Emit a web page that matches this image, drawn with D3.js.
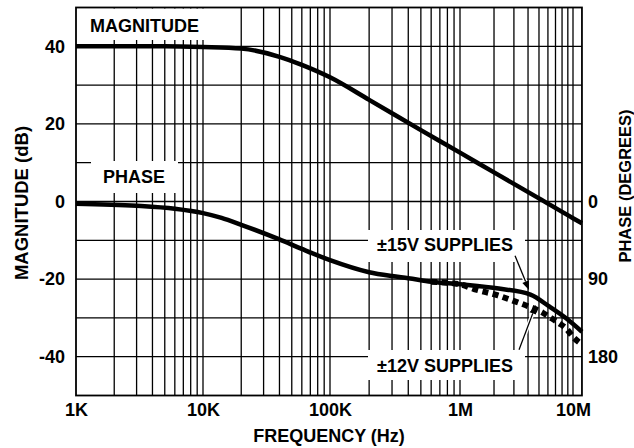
<!DOCTYPE html>
<html>
<head>
<meta charset="utf-8">
<script src="https://cdn.jsdelivr.net/npm/d3@7"></script>
<style>
  body { margin: 0; background: #fff; }
  text { font-family: "Liberation Sans", Arial, Helvetica, sans-serif; font-weight: bold; fill: #000; }
</style>
</head>
<body>
<div id="chart"></div>
<script>
// magnitude (dB) vs frequency (Hz)
const magFreq = [1e3, 2e3, 5e3, 1e4, 2e4, 4e4, 6e4, 1e5, 2e5, 5e5, 1e6, 2e6, 5e6, 1e7, 1.2e7];
const magDb   = [40, 40, 40, 39.8, 39.4, 37.3, 35.2, 32, 26.2, 18.4, 12.6, 7.5, 0.8, -4.3, -5.6];

// phase lag (degrees), +-15V supplies
const phase15Freq = [1e3, 3e3, 6e3, 1e4, 1.4e4, 2e4, 4e4, 6e4, 1e5, 2e5, 3e5, 4e5, 6e5, 1e6, 2.2e6, 4.2e6, 6.2e6, 8.8e6, 1.2e7];
const phase15Deg  = [2.5, 5, 8.5, 13.5, 19, 27, 44, 55, 68, 82, 86.5, 89, 93, 96, 101, 108, 122, 136, 151];

// phase lag (degrees), +-12V supplies (splits off above 1MHz)
const phase12Freq = [6e5, 1e6, 1.33e6, 2.17e6, 2.8e6, 4e6, 5.4e6, 6.2e6, 7.5e6, 8.8e6, 1e7, 1.18e7];
const phase12Deg  = [93, 96, 101.5, 109, 114, 121.5, 129, 134, 141, 148, 157, 165];

// tick labels
const magTicks = [40, 20, 0, -20, -40];
const phaseTicks = [0, 90, 180];
const freqTicks = [1e3, 1e4, 1e5, 1e6, 1e7];
const freqTickLabels = ["1K", "10K", "100K", "1M", "10M"];

const width = 634;
const height = 448;
const freqMax = 1.2e7; // frame runs a little past 10M

// decades on the original sheet are not quite even, so use a piecewise log scale
const x = d3.scaleLog()
    .domain([1e3, 1e4, 1e5, 1e6, 1e7])
    .range([76, 203, 330, 460, 573]);

const y = d3.scaleLinear()
    .domain([-50, 50])
    .range([395.5, 7.5]);

// 90 degrees of phase = 20 dB on the left scale
const yPhase = d3.scaleLinear()
    .domain([0, 180])
    .range([y(0), y(-40)]);

const svg = d3.select("#chart")
    .append("svg")
    .attr("width", width)
    .attr("height", height);

svg.append("rect")
    .attr("width", width)
    .attr("height", height)
    .attr("fill", "#fff");

const plotLeft = x(1e3), plotRight = x(freqMax), plotTop = y(50), plotBottom = y(-50);

// grid: every 1..9 of each decade, every 10 dB
const gridFreqs = [];
[1e3, 1e4, 1e5, 1e6].forEach(d => {
    for (let k = 2; k <= 9; k++) gridFreqs.push(d * k);
    if (d > 1e3) gridFreqs.push(d);
});
gridFreqs.push(1e7);

const grid = svg.append("g")
    .attr("stroke", "#000")
    .attr("stroke-width", 1.3);

grid.selectAll(".vgrid")
    .data(gridFreqs)
    .enter().append("line")
    .attr("x1", d => x(d)).attr("x2", d => x(d))
    .attr("y1", plotTop).attr("y2", plotBottom);

grid.selectAll(".hgrid")
    .data(d3.range(-40, 50, 10))
    .enter().append("line")
    .attr("x1", plotLeft).attr("x2", plotRight)
    .attr("y1", d => y(d)).attr("y2", d => y(d));

// white boxes behind the in-plot labels
const labelBoxes = [
    { x0: 77, x1: 208, y0: plotTop + 1, y1: 40 },
    { x0: 91, x1: 178, y0: 161, y1: 193 },
    { x0: 368, x1: 525, y0: 230, y1: 262 },
    { x0: 368, x1: 525, y0: 350, y1: 380 }
];
svg.selectAll(".labelbox")
    .data(labelBoxes)
    .enter().append("rect")
    .attr("x", d => d.x0)
    .attr("y", d => d.y0)
    .attr("width", d => d.x1 - d.x0)
    .attr("height", d => d.y1 - d.y0)
    .attr("fill", "#fff");

// frame
svg.append("rect")
    .attr("x", plotLeft)
    .attr("y", plotTop)
    .attr("width", plotRight - plotLeft)
    .attr("height", plotBottom - plotTop)
    .attr("fill", "none")
    .attr("stroke", "#000")
    .attr("stroke-width", 1.8);

// curves
const magLine = d3.line()
    .x((d, i) => x(magFreq[i]))
    .y(d => y(d))
    .curve(d3.curveMonotoneX);

const phaseLine = freqs => d3.line()
    .x((d, i) => x(freqs[i]))
    .y(d => yPhase(d))
    .curve(d3.curveMonotoneX);

svg.append("path")
    .attr("d", phaseLine(phase12Freq)(phase12Deg))
    .attr("fill", "none")
    .attr("stroke", "#000")
    .attr("stroke-width", 6)
    .attr("stroke-dasharray", "6,4.5");

svg.append("path")
    .attr("d", phaseLine(phase15Freq)(phase15Deg))
    .attr("fill", "none")
    .attr("stroke", "#000")
    .attr("stroke-width", 4.5);

svg.append("path")
    .attr("d", magLine(magDb))
    .attr("fill", "none")
    .attr("stroke", "#000")
    .attr("stroke-width", 4.5);

// axes (labels only)
const axisStyle = g => {
    g.select(".domain").remove();
    g.selectAll("text")
        .style("font-size", "18px")
        .style("font-family", "\"Liberation Sans\", Arial, sans-serif")
        .style("font-weight", "bold");
};

svg.append("g")
    .attr("transform", `translate(${plotLeft},0)`)
    .call(d3.axisLeft(y).tickValues(magTicks).tickSize(0).tickPadding(11)
        .tickFormat(d => `${d}`))
    .call(axisStyle);

svg.append("g")
    .attr("transform", `translate(${plotRight},0)`)
    .call(d3.axisRight(yPhase).tickValues(phaseTicks).tickSize(0).tickPadding(6)
        .tickFormat(d => `${d}`))
    .call(axisStyle);

svg.append("g")
    .attr("transform", `translate(0,${plotBottom})`)
    .call(d3.axisBottom(x).tickValues(freqTicks).tickSize(0).tickPadding(8)
        .tickFormat((d, i) => freqTickLabels[i]))
    .call(axisStyle);

// axis titles
svg.append("text")
    .attr("transform", `translate(28, 203) rotate(-90)`)
    .attr("text-anchor", "middle")
    .style("font-size", "18.5px")
    .text("MAGNITUDE (dB)");

svg.append("text")
    .attr("transform", `translate(631, 186) rotate(-90)`)
    .attr("text-anchor", "middle")
    .style("font-size", "16.5px")
    .text("PHASE (DEGREES)");

svg.append("text")
    .attr("x", 329)
    .attr("y", 442)
    .attr("text-anchor", "middle")
    .style("font-size", "18px")
    .text("FREQUENCY (Hz)");

// in-plot labels
const labels = [
    { text: "MAGNITUDE", x: 90, y: 32 },
    { text: "PHASE", x: 103, y: 183 },
    { text: "\u00b115V SUPPLIES", x: 377, y: 251 },
    { text: "\u00b112V SUPPLIES", x: 377, y: 372 }
];
svg.selectAll(".plotlabel")
    .data(labels)
    .enter().append("text")
    .attr("x", d => d.x)
    .attr("y", d => d.y)
    .style("font-size", "18px")
    .text(d => d.text);

// arrows from supply labels to the phase curves (freq, degrees)
const arrows = [
    { from: [3.07e6, 63], to: [4.08e6, 102.5] },
    { from: [3.33e6, 172], to: [4.7e6, 120] }
];
arrows.forEach(a => {
    const x0 = x(a.from[0]), y0 = yPhase(a.from[1]);
    const x1 = x(a.to[0]), y1 = yPhase(a.to[1]);
    const ang = Math.atan2(y1 - y0, x1 - x0);
    const len = 9, hw = 3.5;
    const bx = x1 - len * Math.cos(ang), by = y1 - len * Math.sin(ang);
    svg.append("line")
        .attr("x1", x0).attr("y1", y0).attr("x2", bx).attr("y2", by)
        .attr("stroke", "#fff").attr("stroke-width", 4);
    svg.append("line")
        .attr("x1", x0).attr("y1", y0).attr("x2", bx).attr("y2", by)
        .attr("stroke", "#000").attr("stroke-width", 1.3);
    svg.append("path")
        .attr("d", `M${x1},${y1}L${bx - hw * Math.sin(ang)},${by + hw * Math.cos(ang)}L${bx + hw * Math.sin(ang)},${by - hw * Math.cos(ang)}Z`)
        .attr("fill", "#000");
});
</script>
</body>
</html>
